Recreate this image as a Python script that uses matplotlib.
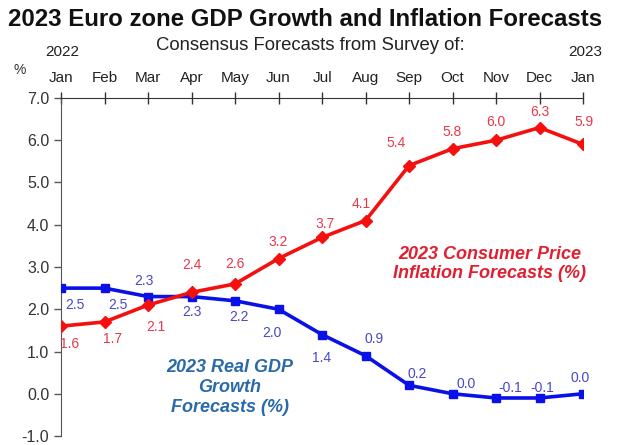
import matplotlib
matplotlib.use("Agg")
import matplotlib.pyplot as plt

months = ["Jan", "Feb", "Mar", "Apr", "May", "Jun", "Jul", "Aug", "Sep", "Oct", "Nov", "Dec", "Jan"]
cpi = [1.6, 1.7, 2.1, 2.4, 2.6, 3.2, 3.7, 4.1, 5.4, 5.8, 6.0, 6.3, 5.9]
gdp = [2.5, 2.5, 2.3, 2.3, 2.2, 2.0, 1.4, 0.9, 0.2, 0.0, -0.1, -0.1, 0.0]
yticks = [-1.0, 0.0, 1.0, 2.0, 3.0, 4.0, 5.0, 6.0, 7.0]

# label offsets (points)
cpi_off = [(6, -13), (6, -12), (6, -16), (0, 20), (0, 14), (0, 12), (2, 10), (-3, 12), (-9, 16),
           (0, 12), (0, 13), (0, 11), (1, 16)]
gdp_off = [(10, -12), (10, -12), (-3, 11), (0, -11), (3, -12), (-5, -17), (0, -17), (6, 12),
           (6, 8), (10, 7), (10, 7), (2, 7), (-2, 11)]

plt.rcParams['font.family'] = ['Liberation Sans', 'DejaVu Sans']

fig = plt.figure(figsize=(6.17, 4.45), dpi=100)
ax = fig.add_axes([0.0989, 0.0202, 0.8461, 0.7596])

red = "#f51010"
blue = "#0a10e8"
x = list(range(len(months)))

ax.plot(x, gdp, color=blue, lw=2.6, marker="s", ms=6, zorder=3)
ax.plot(x, cpi, color=red, lw=2.6, marker="D", ms=6, zorder=4)

for i, v in enumerate(cpi):
    ax.annotate(f"{v:.1f}", (i, v), xytext=cpi_off[i], textcoords="offset points",
                ha="center", va="center", fontsize=10, color="#e8384a")
for i, v in enumerate(gdp):
    ax.annotate(f"{v:.1f}", (i, v), xytext=gdp_off[i], textcoords="offset points",
                ha="center", va="center", fontsize=10, color="#4848c8")

ax.set_xlim(0, 12)
ax.set_ylim(-1, 7)
ax.set_yticks(yticks)
ax.set_yticklabels([f"{t:.1f}" for t in yticks], fontsize=11.5, color="#333333")
ax.set_xticks(x)
ax.set_xticklabels(months, fontsize=11, color="#222222")
ax.xaxis.tick_top()
ax.tick_params(axis="x", direction="inout", length=9, width=1, pad=5, color="#333333")
ax.tick_params(axis="y", direction="out", length=5, width=1, color="#555555")
for s in ["right", "bottom"]:
    ax.spines[s].set_visible(False)
ax.spines["top"].set_color("#333333")
ax.spines["left"].set_color("#555555")

ax.text(9.86, 3.07, "2023 Consumer Price\nInflation Forecasts (%)",
        ha="center", va="center", fontsize=13, fontstyle="italic", fontweight="bold",
        color="#e02030", linespacing=1.2)
ax.text(3.88, 0.15, "2023 Real GDP\nGrowth\nForecasts (%)", ha="center", va="center",
        fontsize=13, fontstyle="italic", fontweight="bold", color="#2a6aa8", linespacing=1.2)

fig.text(305 / 617, 1 - 19 / 445, "2023 Euro zone GDP Growth and Inflation Forecasts", ha="center", va="center",
         fontsize=17.3, fontweight="bold", color="#111111")
fig.text(310 / 617, 1 - 45 / 445, "Consensus Forecasts from Survey of:", ha="center", va="center",
         fontsize=13.3, color="#222222")
fig.text(62 / 617, 1 - 52 / 445, "2022", ha="center", va="center", fontsize=11, color="#222222")
fig.text(585 / 617, 1 - 52 / 445, "2023", ha="center", va="center", fontsize=11, color="#222222")
fig.text(20 / 617, 1 - 70 / 445, "%", ha="center", va="center", fontsize=10, color="#333333")

fig.savefig("out.png", dpi=100, facecolor="white")
